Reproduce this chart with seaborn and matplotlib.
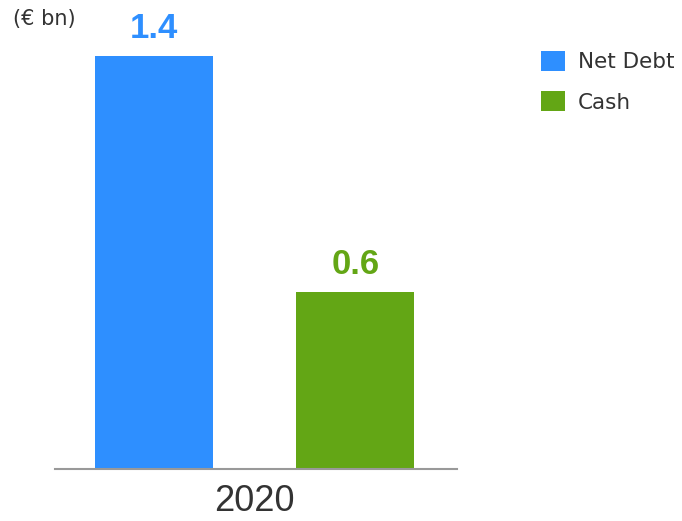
import pandas as pd
import seaborn as sns
from matplotlib import pyplot as plt

years = ["2020", "2020"]
series = ["Net Debt", "Cash"]
values = [1.4, 0.6]
labels = ["1.4", "0.6"]
colors = ["#2E8FFF", "#63A615"]

df = pd.DataFrame({"year": years, "series": series, "value": values})

sns.set_style("white")
plt.rcParams["font.family"] = ["Liberation Sans", "DejaVu Sans"]

fig = plt.figure(figsize=(6.82, 5.21), dpi=100)
ax = fig.add_axes([55 / 682, (521 - 469) / 521, 402 / 682, 459 / 521])

sns.barplot(data=df, x="year", y="value", hue="series", palette=colors,
            saturation=1, linewidth=0, width=0.8, gap=0.413, ax=ax, legend=True)

ax.set_ylim(0, 459 / 295)
ax.set_xlim(-0.3975, 0.4025)

# value labels above bars
for cont, lab, col in zip(ax.containers, labels, colors):
    ax.bar_label(cont, labels=[lab], padding=8, color=col,
                 fontsize=25, fontweight="bold")

for s in ["top", "right", "left"]:
    ax.spines[s].set_visible(False)
ax.spines["bottom"].set_color("#999999")
ax.spines["bottom"].set_linewidth(1.5)
ax.set_yticks([])
ax.set_xlabel("")
ax.set_ylabel("")
ax.tick_params(axis="x", length=0, labelsize=26, labelcolor="#333333", pad=11)

fig.text(13 / 682, 1 - 19 / 521, "(€ bn)", fontsize=15, color="#333333",
         va="center", ha="left", family="DejaVu Sans")

leg = ax.legend(loc="upper left", bbox_to_anchor=(541 / 682, 1 - 51 / 521),
                bbox_transform=fig.transFigure, frameon=False,
                prop={"family": "DejaVu Sans", "size": 15.5},
                handlelength=1.1, handleheight=1.05, handletextpad=0.62,
                labelspacing=0.88, borderpad=0, borderaxespad=0)
for t in leg.get_texts():
    t.set_color("#333333")

fig.savefig("out.png", dpi=100)
